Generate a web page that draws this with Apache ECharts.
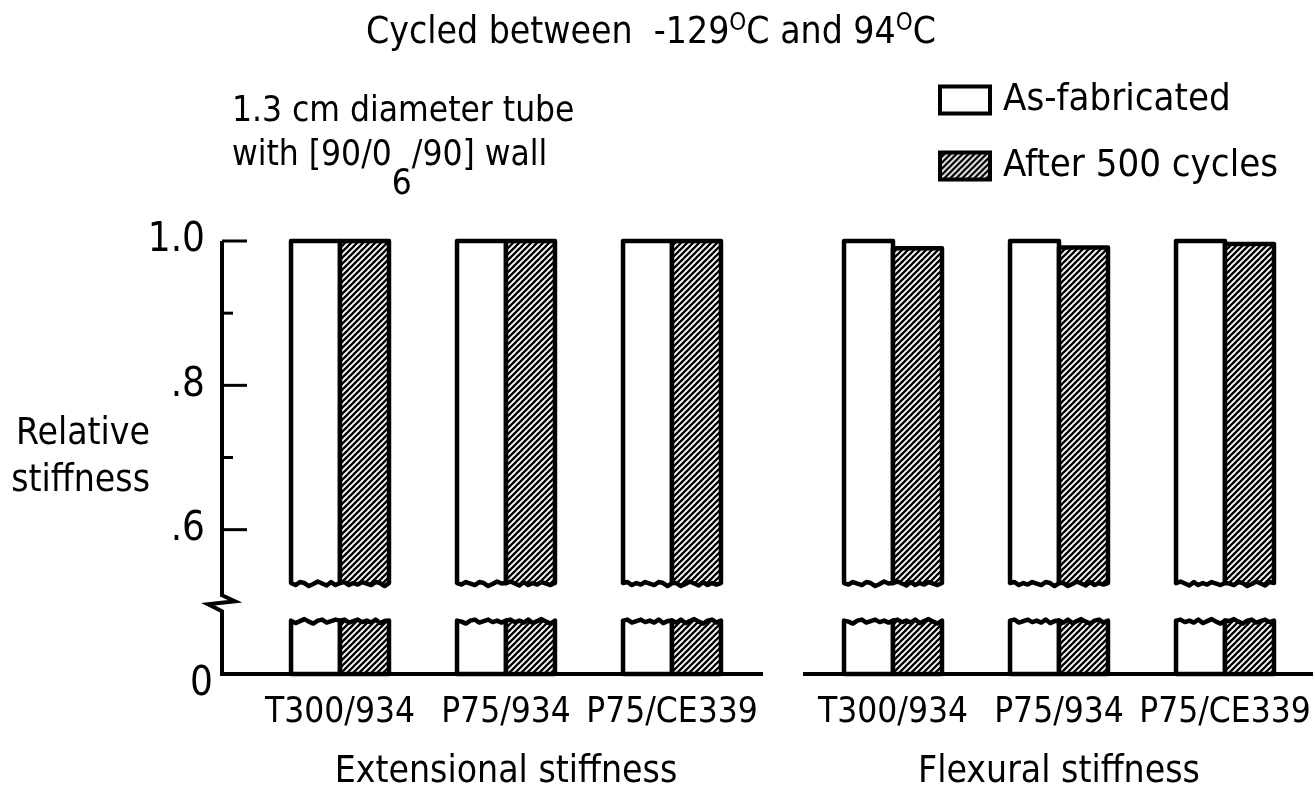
<!DOCTYPE html>
<html><head><meta charset="utf-8">
<script src="https://cdn.jsdelivr.net/npm/echarts@6/dist/echarts.min.js"></script>
<style>html,body{margin:0;padding:0;background:#fff}#c{width:1315px;height:796px}</style>
</head><body><div id="c"></div>
<script>
// ---- data ----
const categories = ['T300/934', 'P75/934', 'P75/CE339'];
const groupNames = ['Extensional stiffness', 'Flexural stiffness'];
const seriesNames = ['As-fabricated', 'After 500 cycles'];
const extAsFabricated = [1.0, 1.0, 1.0];
const extAfterCycles = [1.0, 1.0, 1.0];
const flexAsFabricated = [1.0, 1.0, 1.0];
const flexAfterCycles = [0.990, 0.991, 0.996];
const yTickValues = [1.0, 0.9, 0.8, 0.7, 0.6];
const yTickLabels = { 10: '1.0', 8: '.8', 6: '.6', 4: '{z|0}' };

// ---- broken-axis layout (display units) ----
const AXIS_ZERO = 0.4;      // real 0 is drawn here
const CUT_HI = 0.526;       // upper bar piece ends here
const CUT_LO = 0.474;       // lower bar piece starts here
const BREAK_MARK = 0.498;
const FONT = '"DejaVu Sans Condensed","Liberation Sans Narrow",sans-serif';

function makeHatch() {
  const c = document.createElement('canvas');
  c.width = 6; c.height = 6;
  const g = c.getContext('2d');
  g.fillStyle = '#fff'; g.fillRect(0, 0, 6, 6);
  g.strokeStyle = '#000'; g.lineWidth = 2.3;
  g.beginPath();
  g.moveTo(-1, 7); g.lineTo(7, -1);
  g.moveTo(-4, 4); g.lineTo(4, -4);
  g.moveTo(2, 10); g.lineTo(10, 2);
  g.stroke();
  return c;
}
const hatch = { image: makeHatch(), repeat: 'repeat' };
const WAVE = [0, 2, -1, 2.5, 0.5, -1.5, 1, 3, 0, -1, 2, 0.5, -1, 1.5];

function wavy(xa, xb, y, seed) {
  const n = 11, pts = [];
  for (let i = 0; i <= n; i++) {
    const w = (i === 0 || i === n) ? 0 : WAVE[(i + seed) % WAVE.length];
    pts.push([xa + (xb - xa) * i / n, y + w]);
  }
  return pts;
}

function barRender(which) {
  return function (params, api) {
    const ci = api.value(0), v = api.value(1);
    const top = api.coord([ci, v]);
    const base = api.coord([ci, AXIS_ZERO]);
    const yHi = api.coord([ci, CUT_HI])[1];
    const yLo = api.coord([ci, CUT_LO])[1];
    const bw = api.size([1, 0])[0] * 0.295;
    const x0 = which === 0 ? top[0] - bw : top[0];
    const x1 = x0 + bw;
    const seed = params.dataIndex * 3 + which * 5 + params.seriesIndex;
    const upper = [[x0, top[1]], [x1, top[1]]].concat(wavy(x1, x0, yHi, seed));
    const lower = wavy(x0, x1, yLo, seed + 2).concat([[x1, base[1]], [x0, base[1]]]);
    const style = { fill: which === 0 ? '#fff' : hatch, stroke: '#000', lineWidth: 4.5, lineJoin: 'round' };
    return {
      type: 'group',
      children: [
        { type: 'polygon', shape: { points: upper }, style: style },
        { type: 'polygon', shape: { points: lower }, style: style }
      ]
    };
  };
}

function frameRender(gi) {
  return function (params, api) {
    const cs = params.coordSys;
    const yZero = cs.y + cs.height;
    const children = [];
    const lw = 4;
    if (gi === 0) {
      const ax = cs.x - 35;
      const yTop = api.coord([0, 1.0])[1];
      const yb = api.coord([0, BREAK_MARK])[1];
      children.push({
        type: 'polyline',
        shape: { points: [[ax, yTop], [ax, yb - 8], [ax + 13, yb - 2], [ax - 14, yb + 1], [ax, yb + 8], [ax, yZero], [cs.x + cs.width + 8, yZero]] },
        style: { stroke: '#000', lineWidth: lw, fill: null, lineJoin: 'miter' }
      });
      yTickValues.forEach(function (t) {
        const y = api.coord([0, t])[1];
        const major = Math.round(t * 10) % 2 === 0;
        children.push({ type: 'line', shape: { x1: ax, y1: y, x2: ax + (major ? 25 : 11), y2: y }, style: { stroke: '#000', lineWidth: 3 } });
      });
    } else {
      children.push({ type: 'line', shape: { x1: cs.x - 7, y1: yZero, x2: cs.x + cs.width + 5, y2: yZero }, style: { stroke: '#000', lineWidth: lw } });
    }
    return { type: 'group', children: children };
  };
}

function pairs(arr) { return arr.map(function (v, i) { return [i, v]; }); }

const chart = echarts.init(document.getElementById('c'), null, { renderer: 'canvas' });
const gridDefs = [
  { left: 257, width: 498, top: 241, bottom: 117 },
  { left: 810, width: 498, top: 241, bottom: 117 }
];
const xAxes = gridDefs.map(function (g, i) {
  return {
    type: 'category', gridIndex: i, data: categories, boundaryGap: true,
    axisLine: { show: false }, axisTick: { show: false },
    axisLabel: { color: '#000', fontFamily: FONT, fontSize: 35, margin: 21, interval: 0, hideOverlap: false },
    name: groupNames[i], nameLocation: 'middle', nameGap: 80,
    nameTextStyle: { color: '#000', fontFamily: FONT, fontSize: 37 }
  };
});
const yAxes = gridDefs.map(function (g, i) {
  return {
    type: 'value', gridIndex: i, min: AXIS_ZERO, max: 1.0, interval: 0.1, show: i === 0,
    splitLine: { show: false }, axisLine: { show: false }, axisTick: { show: false },
    axisLabel: {
      color: '#000', fontFamily: FONT, fontSize: 40, margin: 52,
      formatter: function (v) { return yTickLabels[Math.round(v * 10)] || ''; },
      rich: { z: { fontFamily: FONT, fontSize: 40, color: '#000', padding: [22, -8, 0, 0] } }
    },
    name: 'Relative\nstiffness', nameLocation: 'middle', nameRotate: 0, nameGap: 107, nameMoveOverlap: false,
    nameTextStyle: { color: '#000', fontFamily: FONT, fontSize: 37, lineHeight: 47, padding: [12, 0, 0, 0] }
  };
});
const dataSets = [[extAsFabricated, extAfterCycles], [flexAsFabricated, flexAfterCycles]];
const series = [];
dataSets.forEach(function (pair, gi) {
  pair.forEach(function (arr, which) {
    series.push({
      type: 'custom', name: seriesNames[which], xAxisIndex: gi, yAxisIndex: gi,
      data: pairs(arr), renderItem: barRender(which), clip: false,
      itemStyle: { color: which === 0 ? '#fff' : hatch, borderColor: '#000', borderWidth: 4 }
    });
  });
  series.push({
    type: 'custom', name: 'frame' + gi, xAxisIndex: gi, yAxisIndex: gi,
    data: [[0, 1]], renderItem: frameRender(gi), clip: false, silent: true, z: 1
  });
});

chart.setOption({
  animation: false,
  backgroundColor: '#fff',
  title: [
    {
      text: 'Cycled between  -129{sup|O}C and 94{sup|O}C', left: 366, top: 12, padding: 0,
      textStyle: { color: '#000', fontFamily: FONT, fontSize: 37, fontWeight: 'normal',
        rich: { sup: { fontFamily: FONT, fontSize: 24, color: '#000', padding: [0, 0, 18, 0] } } }
    },
    {
      text: '1.3 cm diameter tube\nwith [90/0{sub|6}/90] wall', left: 232, top: 90, padding: 0,
      textStyle: { color: '#000', fontFamily: FONT, fontSize: 35, fontWeight: 'normal', lineHeight: 44,
        rich: { sub: { fontFamily: FONT, fontSize: 35, color: '#000', padding: [58, 0, 0, 0] } } }
    }
  ],
  legend: {
    orient: 'vertical', left: 938, top: 80, padding: 0, icon: 'rect', itemWidth: 50, itemHeight: 27, itemGap: 26,
    textStyle: { color: '#000', fontFamily: FONT, fontSize: 38, lineHeight: 40, padding: [0, 0, 0, 8] },
    selectedMode: false,
    data: [
      { name: seriesNames[0], itemStyle: { color: '#fff', borderColor: '#000', borderWidth: 4 } },
      { name: seriesNames[1], itemStyle: { color: hatch, borderColor: '#000', borderWidth: 4 } }
    ]
  },
  grid: gridDefs,
  xAxis: xAxes,
  yAxis: yAxes,
  series: series
});
</script></body></html>
